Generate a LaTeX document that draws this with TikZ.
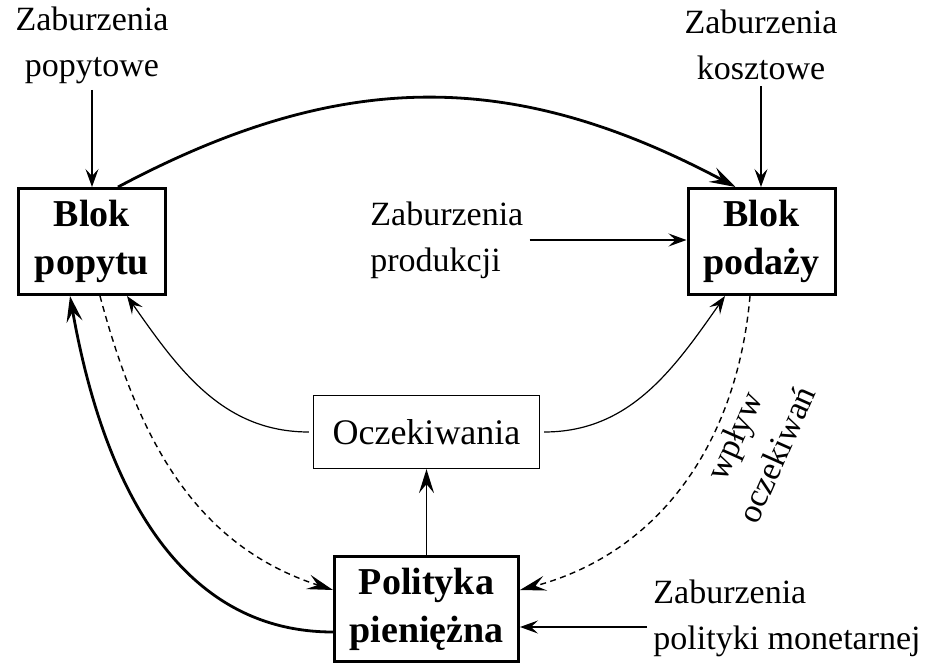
\documentclass[tikz,border=0pt]{standalone}
\usepackage{fontspec}
\setmainfont{Liberation Serif}
\usetikzlibrary{arrows.meta, positioning, calc}

\tikzset{
    blok/.style={draw, line width=1.5pt, inner sep=0pt, align=center,
                 font=\fontsize{19}{24}\selectfont\bfseries},
    opis/.style={inner sep=1pt, align=center, font=\fontsize{17}{23}\selectfont},
    cienka/.style={line width=0.6pt, shorten <=2pt, -{Stealth[length=9pt,width=6.5pt,inset=3.5pt]}},
    gruba/.style={line width=1.4pt, -{Stealth[length=13pt,width=8pt,inset=5pt]}},
    kreski/.style={line width=0.7pt, dash pattern=on 3pt off 2.2pt,
                   -{Stealth[length=13pt,width=7.5pt,inset=5pt]}}
}

\begin{document}
\begin{tikzpicture}[x=1pt,y=1pt]
    \useasboundingbox (0,0) rectangle (464,333);

    \node[blok, minimum width=73.5pt, minimum height=53pt] (popyt) at (46,212.25) {Blok\\popytu};
    \node[blok, minimum width=73.5pt, minimum height=53pt] (podaz) at (380.75,212.25) {Blok\\podaży};
    \node[blok, minimum width=92pt, minimum height=52.5pt] (polityka) at (213.25,28.5) {Polityka\\pieniężna};
    \node[draw, line width=0.6pt, minimum width=113pt, minimum height=36.5pt,
          font=\fontsize{18}{22}\selectfont] (ocz) at (213.25,117) {Oczekiwania};

    \node[opis] (zpopyt) at (46,310.5) {Zaburzenia\\popytowe};
    \node[opis] (zkoszt) at (380.5,310.5) {Zaburzenia\\kosztowe};
    \node[opis, align=left, anchor=west] (zprod) at (184,213) {Zaburzenia\\produkcji};
    \node[opis, align=left, anchor=west] (zmon) at (325.5,23.75) {Zaburzenia\\polityki monetarnej};
    \node[opis, rotate=66] (wplyw) at (377.5,110.5) {wpływ\\oczekiwań};

    % zaburzenia
    \draw[cienka] (zpopyt.south) -- (popyt.north);
    \draw[cienka] (zkoszt.south) -- (zkoszt.south |- podaz.north);
    \draw[cienka] (zprod.east) -- (zprod.east -| podaz.west);
    \draw[cienka] ([yshift=-4.25pt]zmon.west) -- ([yshift=-4.25pt]zmon.west -| polityka.east);

    % popyt -> podaz
    \draw[gruba] ([xshift=13pt]popyt.north) to[out=28, in=152, looseness=1.05] ([xshift=-13pt]podaz.north);

    % oczekiwania
    \draw[cienka] (ocz.west) to[out=180, in=-55] ([xshift=17.5pt]popyt.south);
    \draw[cienka] (ocz.east) to[out=0, in=-125] ([xshift=-18.25pt]podaz.south);
    \draw[line width=0.9pt, -{Stealth[length=12pt,width=7.5pt,inset=4.5pt]}] (polityka.north) -- (ocz.south);

    % polityka pieniezna
    \draw[kreski] ([xshift=4pt]popyt.south) to[out=-75, in=162] ([yshift=9.5pt]polityka.west);
    \draw[kreski] ([xshift=-5.75pt]podaz.south) to[out=-95, in=15] ([yshift=9.5pt]polityka.east);
    \draw[gruba] ([yshift=-11.5pt]polityka.west) to[out=180, in=-80] ([xshift=-11pt]popyt.south);
\end{tikzpicture}
\end{document}
